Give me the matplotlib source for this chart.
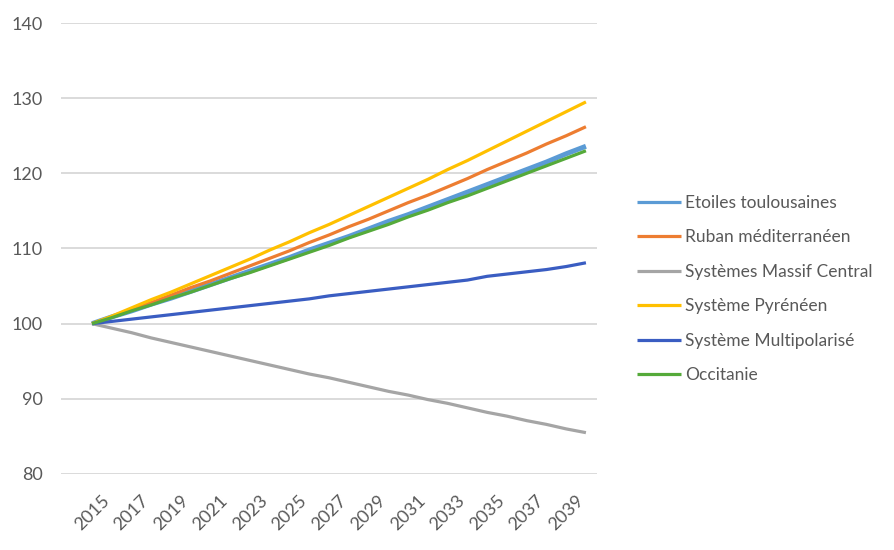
# Population index (base 100 in 2015) by territory, 2015-2040
import matplotlib.pyplot as plt
import numpy as np

plt.rcParams['font.family'] = ['Lato', 'DejaVu Sans']

years = list(range(2015, 2041))

etoiles = [100, 100.9, 101.7, 102.6, 103.4, 104.3, 105.2, 106.1, 107.0, 107.9,
           108.8, 109.8, 110.7, 111.6, 112.6, 113.6, 114.5, 115.5, 116.5, 117.5,
           118.5, 119.5, 120.5, 121.5, 122.6, 123.6]
ruban = [100, 100.9, 101.9, 102.8, 103.8, 104.8, 105.7, 106.7, 107.7, 108.7,
         109.7, 110.8, 111.8, 112.9, 113.9, 115.0, 116.1, 117.1, 118.2, 119.3,
         120.5, 121.6, 122.7, 123.9, 125.0, 126.2]
massif = [100, 99.4, 98.8, 98.1, 97.5, 96.9, 96.3, 95.7, 95.1, 94.5,
          93.9, 93.3, 92.8, 92.2, 91.6, 91.0, 90.5, 89.9, 89.4, 88.8,
          88.2, 87.7, 87.1, 86.6, 86.0, 85.5]
pyreneen = [100, 101.0, 102.1, 103.2, 104.2, 105.3, 106.4, 107.5, 108.6, 109.8,
            110.9, 112.1, 113.2, 114.4, 115.6, 116.8, 118.0, 119.2, 120.5, 121.7,
            123.0, 124.3, 125.6, 126.9, 128.2, 129.5]
multipol = [100, 100.3, 100.6, 100.9, 101.2, 101.5, 101.8, 102.1, 102.4, 102.7,
            103.0, 103.3, 103.7, 104.0, 104.3, 104.6, 104.9, 105.2, 105.5, 105.8,
            106.3, 106.6, 106.9, 107.2, 107.6, 108.1]
occitanie = [100, 100.8, 101.7, 102.5, 103.4, 104.2, 105.1, 106.0, 106.8, 107.7,
             108.6, 109.5, 110.4, 111.4, 112.3, 113.2, 114.2, 115.1, 116.1, 117.0,
             118.0, 119.0, 120.0, 121.0, 122.0, 123.0]

series = [
    ('Etoiles toulousaines', etoiles, '#5B9BD5', 3.6),
    ('Ruban méditerranéen', ruban, '#ED7D31', 2.3),
    ('Systèmes Massif Central', massif, '#A5A5A5', 2.3),
    ('Système Pyrénéen', pyreneen, '#FFC000', 2.3),
    ('Système Multipolarisé', multipol, '#3A5DC2', 2.3),
    ('Occitanie', occitanie, '#55AA3A', 2.3),
]

fig = plt.figure(figsize=(8.94, 5.5), dpi=100)
ax = fig.add_axes([61 / 894, 1 - 474 / 550, 536 / 894, 451 / 550])

for name, vals, color, lw in series:
    ax.plot(years, vals, color=color, linewidth=lw, label=name,
            solid_capstyle='butt')

ax.set_ylim(80, 140)
ax.set_yticks(np.arange(80, 141, 10))
ax.set_xlim(2013.43, 2040.56)
ax.set_xticks(years[::2])
ax.set_xticklabels([str(y) for y in years[::2]], rotation=45, ha='center')

ax.grid(axis='y', color='#D4D4D4', linewidth=1.2)
ax.set_axisbelow(True)
for s in ax.spines.values():
    s.set_visible(False)
ax.tick_params(axis='both', length=0, labelsize=13, colors='#595959')
ax.tick_params(axis='y', pad=13)
ax.tick_params(axis='x', pad=13)

leg = fig.legend(loc='upper left', bbox_to_anchor=(637 / 894, 1 - 195 / 550),
                 frameon=False, fontsize=12.5, handlelength=2.55,
                 handletextpad=0.23, labelspacing=1.06, borderpad=0,
                 borderaxespad=0)
for t in leg.get_texts():
    t.set_color('#595959')
for h in leg.get_lines():
    h.set_linewidth(2.3)

fig.savefig('out.png', dpi=100)
